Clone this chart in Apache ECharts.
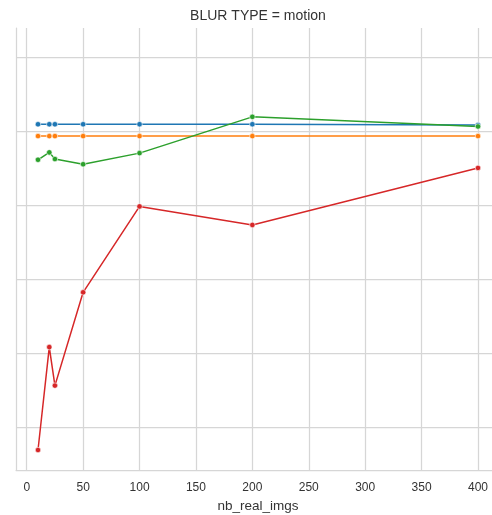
<!DOCTYPE html>
<html>
<head>
<meta charset="utf-8">
<script src="https://cdn.jsdelivr.net/npm/echarts@6/dist/echarts.min.js"></script>
<style>
  html, body { margin: 0; padding: 0; background: #fff; overflow: hidden; }
  /* a bit wider than the window: the source plot is cut off at its right edge */
  #chart { width: 500px; height: 515px; }
</style>
</head>
<body>
<div id="chart"></div>
<script>
// x positions shared by every line
const nbRealImgs = [10, 20, 25, 50, 100, 200, 400];

// values (y has no labels, unit is arbitrary)
const blueVals   = [0.809, 0.809, 0.809, 0.809, 0.809, 0.809, 0.808];
const orangeVals = [0.793, 0.793, 0.793, 0.793, 0.793, 0.793, 0.793];
const greenVals  = [0.761, 0.771, 0.762, 0.755, 0.770, 0.819, 0.806];
const redVals    = [0.369, 0.508, 0.456, 0.582, 0.698, 0.673, 0.750];

const xTicks = [0, 50, 100, 150, 200, 250, 300, 350, 400];
const yGrid = [0.4, 0.5, 0.6, 0.7, 0.8, 0.9];

const palette = ['#1f77b4', '#ff7f0e', '#2ca02c', '#d62728'];
const gridColor = '#d6d6d6';
const textColor = '#333';
const font = '"Liberation Sans", Arial, sans-serif';

function lineSeries(vals, color) {
  return {
    type: 'line',
    data: nbRealImgs.map((x, i) => [x, vals[i]]),
    symbol: 'circle',
    symbolSize: 5.5,
    lineStyle: { color: color, width: 1.5 },
    itemStyle: { color: color, borderColor: '#fff', borderWidth: 0.6 },
    emphasis: { disabled: true },
    animation: false
  };
}

const chart = echarts.init(document.getElementById('chart'), null, { renderer: 'canvas' });
chart.setOption({
  backgroundColor: '#fff',
  title: {
    text: 'BLUR TYPE = motion',
    left: 258,
    textAlign: 'center',
    top: 9,
    padding: 0,
    textStyle: { fontFamily: font, fontSize: 14, fontWeight: 'normal', color: textColor }
  },
  // fixed plot box, no auto shrinking for labels
  grid: { left: 16, top: 28, right: 0, bottom: 45, containLabel: false, outerBoundsMode: 'none' },
  xAxis: {
    type: 'value',
    min: -9.5,
    max: 419.5,
    name: 'nb_real_imgs',
    nameLocation: 'middle',
    nameGap: 25,
    nameTextStyle: { fontFamily: font, fontSize: 13.5, color: textColor },
    axisLine: { show: true, onZero: false, lineStyle: { color: gridColor, width: 1.25 } },
    axisTick: { show: false, customValues: xTicks },
    axisLabel: { customValues: xTicks, margin: 12, fontFamily: font, fontSize: 12, color: textColor },
    splitLine: { show: true, lineStyle: { color: gridColor, width: 1.25 } }
  },
  yAxis: {
    type: 'value',
    min: 0.342,
    max: 0.939,
    axisLine: { show: true, onZero: false, lineStyle: { color: gridColor, width: 1.25 } },
    axisTick: { show: false, customValues: yGrid },
    axisLabel: { show: false, customValues: yGrid },
    splitLine: { show: true, lineStyle: { color: gridColor, width: 1.25 } }
  },
  series: [
    lineSeries(blueVals, palette[0]),
    lineSeries(orangeVals, palette[1]),
    lineSeries(greenVals, palette[2]),
    lineSeries(redVals, palette[3])
  ]
});
</script>
</body>
</html>
